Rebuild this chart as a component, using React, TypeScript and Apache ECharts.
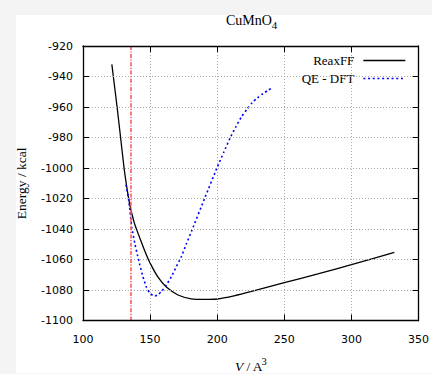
import React, { useEffect, useRef } from "react";
import * as echarts from "echarts";

// ReaxFF energy curve (V in A^3, E in kcal)
const reaxV = [121.5, 122.6, 125.4, 128.0, 130.6, 132.2, 133.8, 135.2, 136.7, 138.0, 139.4, 143.1, 146.8, 150.5, 155.9, 162.1, 170.8, 180.7, 190.6, 200.0, 212.5, 225.0, 250.0, 275.0, 300.0, 332.0];
const reaxE = [-932, -940, -960, -980, -1000, -1010, -1019, -1025.5, -1031, -1035.3, -1039, -1047.7, -1056.0, -1063.2, -1071.6, -1078.1, -1083.3, -1085.8, -1086.2, -1085.9, -1083.8, -1081.1, -1075.2, -1069.5, -1063.4, -1055.3];

// QE - DFT energy curve
const dftV = [132.0, 133.7, 134.9, 136.4, 138.6, 140.6, 142.3, 144.8, 147.3, 149.8, 152.3, 153.5, 155.5, 158.4, 162.2, 165.9, 169.6, 173.3, 177.1, 180.8, 190.6, 199.8, 205.0, 209.7, 214.0, 218.0, 222.0, 226.0, 230.0, 234.0, 238.0, 241.4];
const dftE = [-1011, -1019, -1027.5, -1039, -1049.4, -1057.2, -1063.4, -1071.6, -1078.2, -1082.0, -1083.7, -1083.9, -1083.3, -1081.0, -1076.6, -1071.2, -1064.6, -1058.0, -1049.6, -1041.6, -1020, -1000, -989.5, -980.2, -972.8, -966.6, -961.6, -957.2, -954.0, -951.3, -949.0, -947.1];

// Reference volume (vertical dash-dot line)
const refVolume = 135.7;

const seriesNames = ["ReaxFF", "QE - DFT"];
const titleMain = "CuMnO";
const titleSub = "4";
const yName = "Energy / kcal";
const xNameV = "V";
const xNameRest = " / A";
const xNameSup = "3";

const xMin = 100, xMax = 350, xStep = 50;
const yMin = -1100, yMax = -920, yStep = 20;

const serif = "'Liberation Serif', 'DejaVu Serif', serif";
const sans = "'DejaVu Sans', sans-serif";

export default function App() {
  const ref = useRef<HTMLDivElement>(null);

  useEffect(() => {
    if (!ref.current) return;
    const chart = echarts.init(ref.current, undefined, { renderer: "svg" });
    const gridLeft = 83, gridTop = 46, gridRight = 12.5, gridBottom = 53.5;
    const splitStyle = { color: "#a8a8a8", width: 1, type: [1, 2] as any };
    const frame = { color: "#000", width: 1.3 };
    const tick = { show: true, inside: true, length: 6, lineStyle: { color: "#000", width: 1 } };
    const option: any = {
      animation: false,
      grid: {
        left: gridLeft, top: gridTop, right: gridRight, bottom: gridBottom,
        show: false, containLabel: false,
      },
      xAxis: [
        {
          type: "value", min: xMin, max: xMax, interval: xStep, position: "bottom", z: 5,
          axisLine: { show: true, onZero: false, lineStyle: frame },
          axisTick: tick,
          axisLabel: { show: true, margin: 13, color: "#000", fontFamily: sans, fontSize: 11, formatter: (v: number) => String(v) },
          splitLine: { show: true, showMinLine: false, showMaxLine: false, lineStyle: splitStyle },
        },
        {
          type: "value", min: xMin, max: xMax, interval: xStep, position: "top", z: 5,
          axisLine: { show: true, onZero: false, lineStyle: frame },
          axisTick: tick,
          axisLabel: { show: false },
          splitLine: { show: false },
        },
      ],
      yAxis: [
        {
          type: "value", min: yMin, max: yMax, interval: yStep, position: "left", z: 5,
          axisLine: { show: true, onZero: false, lineStyle: frame },
          axisTick: tick,
          axisLabel: { show: true, margin: 10, color: "#000", fontFamily: sans, fontSize: 11, formatter: (v: number) => String(v) },
          splitLine: { show: true, showMinLine: false, showMaxLine: false, lineStyle: splitStyle },
        },
        {
          type: "value", min: yMin, max: yMax, interval: yStep, position: "right", z: 5,
          axisLine: { show: true, onZero: false, lineStyle: frame },
          axisTick: tick,
          axisLabel: { show: false },
          splitLine: { show: false },
        },
      ],
      legend: {
        data: seriesNames,
        orient: "vertical",
        right: gridRight + 1,
        top: gridTop + 1,
        align: "right",
        itemWidth: 42,
        itemHeight: 14,
        itemGap: 5,
        padding: [7, 12.5, 2, 20],
        backgroundColor: "#fff",
        itemStyle: { opacity: 0 },
        lineStyle: { width: 1.3 },
        textStyle: { fontFamily: serif, fontSize: 13, color: "#000", padding: [0, 4, 0, 0] },
      },
      series: [
        {
          name: seriesNames[0], type: "line", xAxisIndex: 0, yAxisIndex: 0,
          data: reaxV.map((v, i) => [v, reaxE[i]]),
          symbol: "none", showSymbol: false, smooth: 0.2, z: 3,
          lineStyle: { color: "#000", width: 1.3 },
          itemStyle: { color: "#000" },
          markLine: {
            silent: true, symbol: ["none", "none"], label: { show: false },
            lineStyle: { color: "#ff5a5a", width: 1.6, type: [4, 1.5, 1.2, 1.5] },
            data: [{ xAxis: refVolume }],
          },
        },
        {
          name: seriesNames[1], type: "line", xAxisIndex: 0, yAxisIndex: 0,
          data: dftV.map((v, i) => [v, dftE[i]]),
          symbol: "none", showSymbol: false, smooth: 0.2, z: 3,
          lineStyle: { color: "#0000ff", width: 1.6, type: [2, 2.7] },
          itemStyle: { color: "#0000ff" },
        },
      ],
      graphic: [
        { type: "text", x: 226, y: 20, style: { text: titleMain, font: `14px ${serif}`, fill: "#000", align: "left", verticalAlign: "middle" } },
        { type: "text", x: 271.7, y: 25, style: { text: titleSub, font: `11px ${serif}`, fill: "#000", align: "left", verticalAlign: "middle" } },
        { type: "text", x: 21.5, y: 183.3, rotation: Math.PI / 2, style: { text: yName, font: `13.5px ${serif}`, fill: "#000", align: "center", verticalAlign: "middle" } },
        { type: "text", x: 235, y: 366, style: { text: xNameV, font: `italic 13.5px ${serif}`, fill: "#000", align: "left", verticalAlign: "middle" } },
        { type: "text", x: 243, y: 366, style: { text: xNameRest, font: `13.5px ${serif}`, fill: "#000", align: "left", verticalAlign: "middle" } },
        { type: "text", x: 261.5, y: 361, style: { text: xNameSup, font: `10.5px ${serif}`, fill: "#000", align: "left", verticalAlign: "middle" } },
      ],
    };
    chart.setOption(option);
    return () => chart.dispose();
  }, []);

  return (
    <div style={{ position: "absolute", left: 0, top: 0, width: 432, height: 374, background: "#f4f4f4", overflow: "hidden" }}>
      <div style={{ position: "absolute", left: 16, top: 15, width: 416, height: 358, background: "#fff" }} />
      <div ref={ref} style={{ position: "absolute", left: 0, top: 0, width: 432, height: 374 }} />
    </div>
  );
}
